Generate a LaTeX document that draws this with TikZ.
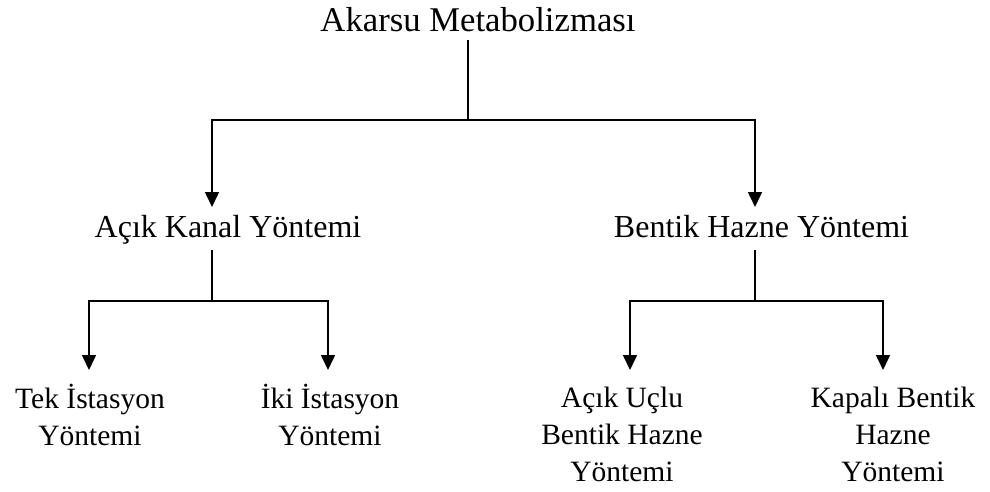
\documentclass[tikz,border=0pt]{standalone}
\usepackage{fontspec}
\setmainfont{Liberation Serif}
\usetikzlibrary{arrows.meta}
\begin{document}
\begin{tikzpicture}[x=1pt,y=-1pt,
  lbl/.style={inner sep=0pt, anchor=base, align=center},
  toplbl/.style={lbl, font=\fontsize{34.7}{40}\selectfont},
  midlbl/.style={lbl, font=\fontsize{32}{38}\selectfont},
  botlbl/.style={lbl, font=\fontsize{29.5}{37}\selectfont},
  conn/.style={line width=1.6pt, black},
  arr/.style={conn, -{Triangle[width=14pt,length=15pt]}}]
\useasboundingbox (0,0) rectangle (990,492);
% texts (base anchor = baseline of last line)
\node[toplbl] (root) at (478,31.7) {Akarsu Metabolizması};
\node[midlbl] (ak) at (228,237) {Açık Kanal Yöntemi};
\node[midlbl] (bh) at (761.5,237) {Bentik Hazne Yöntemi};
\node[botlbl] (tek) at (90,445) {Tek İstasyon\\Yöntemi};
\node[botlbl] (iki) at (330,445) {İki İstasyon\\Yöntemi};
\node[botlbl] (acu) at (622,481) {Açık Uçlu\\Bentik Hazne\\Yöntemi};
\node[botlbl] (kap) at (893,481) {Kapalı Bentik\\Hazne\\Yöntemi};
% junction coordinates
\coordinate (r0) at (468,40);
\coordinate (r1) at (468,120);
\coordinate (rL) at (212,120);
\coordinate (rR) at (755,120);
\coordinate (tL) at (212,207);
\coordinate (tR) at (755,207);
\coordinate (a0) at (212,250);
\coordinate (a1) at (212,301);
\coordinate (aL) at (89,301);
\coordinate (aR) at (328,301);
\coordinate (taL) at (89,370);
\coordinate (taR) at (328,370);
\coordinate (b0) at (755,250);
\coordinate (b1) at (755,301);
\coordinate (bL) at (630,301);
\coordinate (bR) at (883,301);
\coordinate (tbL) at (630,370);
\coordinate (tbR) at (883,370);
% connectors
\draw[conn] (r0) -- (r1);
\draw[arr] (r1) -- (rL) -- (tL);
\draw[arr] (r1) -- (rR) -- (tR);
\draw[conn] (a0) -- (a1);
\draw[arr] (a1) -- (aL) -- (taL);
\draw[arr] (a1) -- (aR) -- (taR);
\draw[conn] (b0) -- (b1);
\draw[arr] (b1) -- (bL) -- (tbL);
\draw[arr] (b1) -- (bR) -- (tbR);
\end{tikzpicture}
\end{document}
